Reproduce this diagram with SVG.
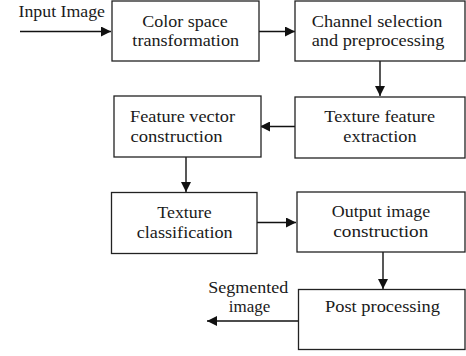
<svg xmlns="http://www.w3.org/2000/svg" width="466" height="356" viewBox="0 0 466 356">
<style>
.box{fill:#fff;stroke:#222;stroke-width:1.3}
.t{font-family:'Liberation Serif','Times New Roman','DejaVu Serif',serif;font-size:17px;fill:#1a1a1a}
.c{text-anchor:middle}
.ln{stroke:#111;stroke-width:1.4;fill:none}
</style>
<defs>
<marker id="ah" markerWidth="10" markerHeight="10" refX="10" refY="5" orient="auto" markerUnits="userSpaceOnUse">
<path d="M0,0 L10,5 L0,10 Z" fill="#111"/>
</marker>
</defs>
<rect width="466" height="356" fill="#fff"/>
<g id="connectors">
<line class="ln" x1="20" y1="31.5" x2="111" y2="31.5" marker-end="url(#ah)"/>
<line class="ln" x1="259" y1="31.5" x2="295" y2="31.5" marker-end="url(#ah)"/>
<line class="ln" x1="380" y1="61" x2="380" y2="96" marker-end="url(#ah)"/>
<line class="ln" x1="295" y1="126.5" x2="260" y2="126.5" marker-end="url(#ah)"/>
<line class="ln" x1="186" y1="157" x2="186" y2="192" marker-end="url(#ah)"/>
<line class="ln" x1="257" y1="222.5" x2="296" y2="222.5" marker-end="url(#ah)"/>
<line class="ln" x1="383" y1="252" x2="383" y2="289" marker-end="url(#ah)"/>
<line class="ln" x1="299" y1="321" x2="207" y2="321" marker-end="url(#ah)"/>
</g>
<g id="input-label"><text class="t" x="18.5" y="17" textLength="86.5" lengthAdjust="spacingAndGlyphs">Input Image</text></g>
<g id="color-space">
<rect class="box" x="112" y="1" width="147" height="60"/>
<text class="t c" x="185" y="26.7" textLength="85.4" lengthAdjust="spacingAndGlyphs">Color space</text>
<text class="t c" x="185.7" y="45.7" textLength="106.7" lengthAdjust="spacingAndGlyphs">transformation</text>
</g>
<g id="channel-selection">
<rect class="box" x="295" y="1" width="170" height="60"/>
<text class="t c" x="377" y="26.7" textLength="130.6" lengthAdjust="spacingAndGlyphs">Channel selection</text>
<text class="t c" x="378" y="45.7" textLength="132.6" lengthAdjust="spacingAndGlyphs">and preprocessing</text>
</g>
<g id="texture-feature">
<rect class="box" x="295" y="97" width="170" height="61"/>
<text class="t c" x="379.7" y="121.7" textLength="110.7" lengthAdjust="spacingAndGlyphs">Texture feature</text>
<text class="t c" x="380" y="141.7" textLength="73.3" lengthAdjust="spacingAndGlyphs">extraction</text>
</g>
<g id="feature-vector">
<rect class="box" x="114" y="96" width="147" height="61"/>
<text class="t" x="130" y="121.7" textLength="105" lengthAdjust="spacingAndGlyphs">Feature vector</text>
<text class="t" x="130.5" y="141.7" textLength="92" lengthAdjust="spacingAndGlyphs">construction</text>
</g>
<g id="texture-classification">
<rect class="box" x="111.5" y="192.5" width="145.5" height="61"/>
<text class="t c" x="184.5" y="218.3" textLength="54.3" lengthAdjust="spacingAndGlyphs">Texture</text>
<text class="t c" x="184.7" y="238" textLength="96" lengthAdjust="spacingAndGlyphs">classification</text>
</g>
<g id="output-image">
<rect class="box" x="297" y="192" width="168" height="60"/>
<text class="t c" x="381" y="217" textLength="98.3" lengthAdjust="spacingAndGlyphs">Output image</text>
<text class="t c" x="380.8" y="236.8" textLength="95" lengthAdjust="spacingAndGlyphs">construction</text>
</g>
<g id="post-processing">
<rect class="box" x="298.5" y="289.5" width="166.5" height="60"/>
<text class="t c" x="382.5" y="311.8" textLength="115" lengthAdjust="spacingAndGlyphs">Post processing</text>
</g>
<g id="segmented-label">
<text class="t c" x="248.3" y="293.3" textLength="80" lengthAdjust="spacingAndGlyphs">Segmented</text>
<text class="t c" x="249.5" y="311.8">image</text>
</g>
</svg>
